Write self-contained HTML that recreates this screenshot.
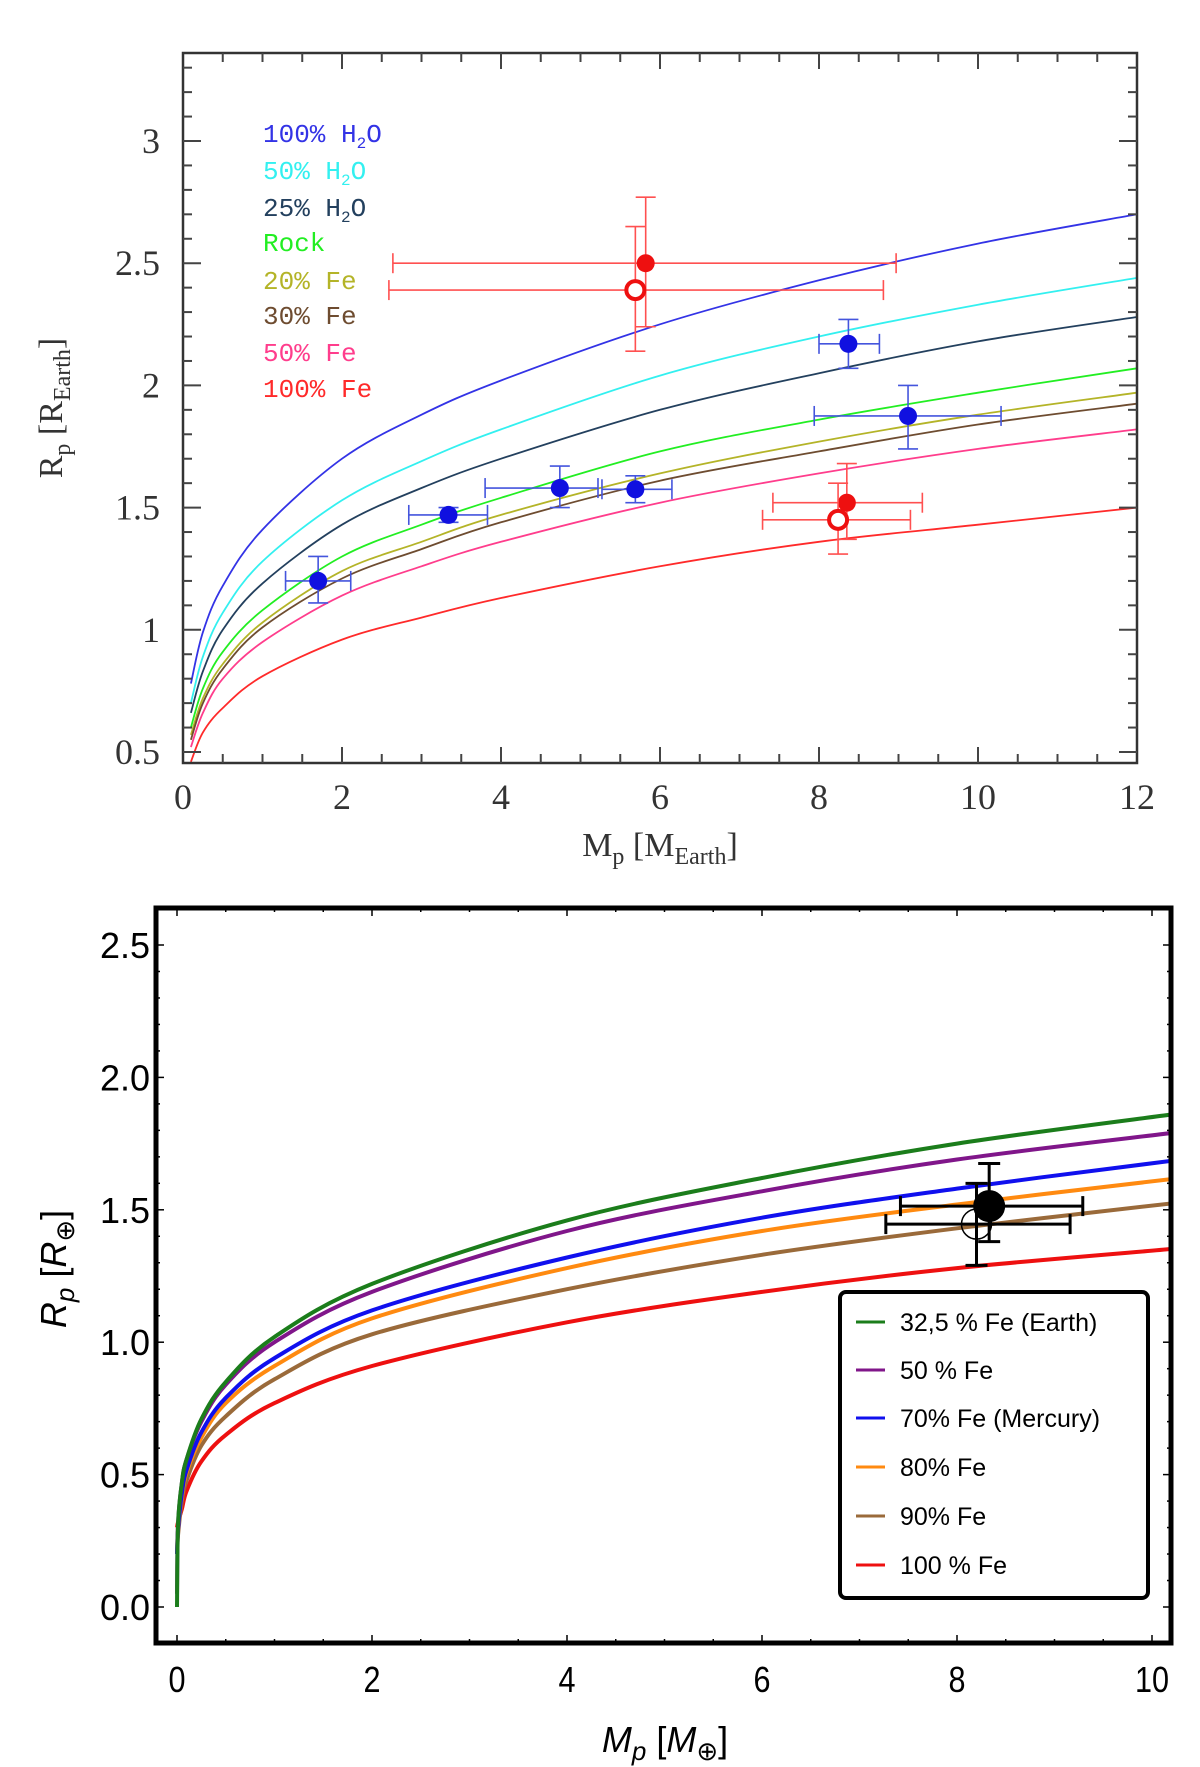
<!DOCTYPE html>
<html><head><meta charset="utf-8"><style>
body{margin:0;background:#fff;width:1200px;height:1767px;overflow:hidden}
svg{display:block}
</style></head><body>
<svg id="fig" width="1200" height="1767" xmlns="http://www.w3.org/2000/svg">
<g id="top"></g>
<g id="bot"></g>
</svg>
<script>
// ---------- TOP CHART DATA ----------
const topMass = [0.1,0.25,0.5,1,2,3,4,6,8,10,12];
const topNames = ["100% H2O","50% H2O","25% H2O","Rock","20% Fe","30% Fe","50% Fe","100% Fe"];
const topColors = ["#3333e6","#33f0f0","#23405e","#22ee22","#b4b428","#6e4c30","#ff3d8c","#ff2a2a"];
const topH2O100 = [0.78,0.99,1.18,1.41,1.70,1.88,2.02,2.25,2.43,2.58,2.70];
const topH2O50 = [0.70,0.89,1.07,1.28,1.53,1.69,1.82,2.04,2.20,2.33,2.44];
const topH2O25 = [0.66,0.83,1.00,1.19,1.43,1.58,1.70,1.90,2.05,2.18,2.28];
const topRock = [0.60,0.76,0.91,1.08,1.30,1.43,1.54,1.73,1.86,1.97,2.07];
const topFe20 = [0.57,0.72,0.86,1.03,1.24,1.36,1.47,1.64,1.77,1.88,1.97];
const topFe30 = [0.55,0.70,0.84,1.01,1.21,1.33,1.44,1.61,1.73,1.84,1.925];
const topFe50 = [0.52,0.66,0.80,0.95,1.14,1.26,1.36,1.52,1.64,1.74,1.82];
const topFe100 = [0.46,0.58,0.68,0.81,0.96,1.05,1.13,1.26,1.36,1.43,1.50];
const bpM = [1.70,3.34,4.74,5.69,8.37,9.12];
const bpR = [1.20,1.47,1.58,1.575,2.17,1.875];
const bpMlo = [1.29,2.84,3.80,5.27,8.00,7.94];
const bpMhi = [2.11,3.83,5.22,6.15,8.76,10.29];
const bpRlo = [1.11,1.44,1.50,1.52,2.07,1.74];
const bpRhi = [1.30,1.50,1.67,1.63,2.27,2.00];
const rpM = [5.82,5.69,8.35,8.24];
const rpR = [2.50,2.39,1.52,1.45];
const rpMlo = [2.64,2.59,7.42,7.29];
const rpMhi = [8.97,8.81,9.30,9.15];
const rpRlo = [2.24,2.14,1.37,1.31];
const rpRhi = [2.77,2.65,1.68,1.60];
const rpOpen = [false,true,false,true];
const topXTicks = [0,2,4,6,8,10,12];
const topYTicks = [0.5,1,1.5,2,2.5,3];

// ---------- BOTTOM CHART DATA ----------
const botMass = [0,0.01,0.05,0.1,0.25,0.5,1,2,4,6,8,10.2];
const botNames = ["32,5 % Fe (Earth)","50 % Fe","70% Fe (Mercury)","80% Fe","90% Fe","100 % Fe"];
const botColors = ["#1b7d1b","#80168a","#1010ee","#ff8a10","#9a6a3a","#ee1010"];
const botFe32 = [0,0.31,0.47,0.56,0.71,0.85,1.02,1.22,1.46,1.62,1.75,1.86];
const botFe50 = [0.05,0.31,0.47,0.56,0.70,0.84,1.00,1.19,1.42,1.57,1.69,1.79];
const botFe70 = [0.2,0.29,0.43,0.52,0.66,0.79,0.94,1.12,1.32,1.47,1.58,1.685];
const botFe80 = [0.2,0.29,0.42,0.51,0.64,0.77,0.91,1.09,1.28,1.42,1.52,1.616];
const botFe90 = [0.2,0.27,0.40,0.48,0.61,0.72,0.86,1.03,1.20,1.33,1.43,1.524];
const botFe100 = [0.3,0.32,0.37,0.44,0.55,0.65,0.77,0.91,1.075,1.19,1.28,1.352];
const kM = [8.33,8.20];
const kR = [1.514,1.446];
const kMlo = [7.42,7.27];
const kMhi = [9.29,9.16];
const kRlo = [1.38,1.29];
const kRhi = [1.675,1.60];
const kOpen = [false,true];
const botXTicks = [0,2,4,6,8,10];
const botYTicks = [0,0.5,1,1.5,2,2.5];

const NS="http://www.w3.org/2000/svg";
function mk(parent,tag,attrs,text){const e=document.createElementNS(NS,tag);for(const k in attrs)e.setAttribute(k,attrs[k]);if(text!==undefined)e.textContent=text;parent.appendChild(e);return e;}
function smooth(pts){
  let d='M'+pts[0][0].toFixed(1)+','+pts[0][1].toFixed(1);
  for(let i=0;i<pts.length-1;i++){
    const p0=pts[i-1]||pts[i],p1=pts[i],p2=pts[i+1],p3=pts[i+2]||p2;
    const c1=[p1[0]+(p2[0]-p0[0])/6,p1[1]+(p2[1]-p0[1])/6];
    const c2=[p2[0]-(p3[0]-p1[0])/6,p2[1]-(p3[1]-p1[1])/6];
    d+=' C'+c1[0].toFixed(1)+','+c1[1].toFixed(1)+' '+c2[0].toFixed(1)+','+c2[1].toFixed(1)+' '+p2[0].toFixed(1)+','+p2[1].toFixed(1);
  }
  return d;
}

// ===== TOP =====
(function(){
const g=document.getElementById('top');
const L=183,R=1137,T=53,B=763;
const X=m=>L+(m-0)*(R-L)/12;
const Y=r=>141+(3-r)*244.4;
const serif='"Liberation Serif", serif';
const series=[topH2O100,topH2O50,topH2O25,topRock,topFe20,topFe30,topFe50,topFe100];
series.forEach((s,i)=>{
  const d=smooth(s.map((v,j)=>[X(topMass[j]),Y(v)]));
  const p=mk(g,'path',{d:d,fill:'none',stroke:topColors[i],'stroke-width':1.8});
  
  
});
bpM.forEach((m,i)=>{
  const c='#4455dd';
  const e=mk(g,'g',{stroke:c,'stroke-width':1.6});
  
  
  mk(e,'line',{x1:X(bpMlo[i]),x2:X(bpMhi[i]),y1:Y(bpR[i]),y2:Y(bpR[i])});
  mk(e,'line',{x1:X(bpMlo[i]),x2:X(bpMlo[i]),y1:Y(bpR[i])-10,y2:Y(bpR[i])+10});
  mk(e,'line',{x1:X(bpMhi[i]),x2:X(bpMhi[i]),y1:Y(bpR[i])-10,y2:Y(bpR[i])+10});
  mk(e,'line',{x1:X(m),x2:X(m),y1:Y(bpRlo[i]),y2:Y(bpRhi[i])});
  mk(e,'line',{x1:X(m)-10,x2:X(m)+10,y1:Y(bpRlo[i]),y2:Y(bpRlo[i])});
  mk(e,'line',{x1:X(m)-10,x2:X(m)+10,y1:Y(bpRhi[i]),y2:Y(bpRhi[i])});
  mk(e,'circle',{cx:X(m),cy:Y(bpR[i]),r:9,fill:'#1010e0',stroke:'none'});
});
rpM.forEach((m,i)=>{
  const c='#ff5050';
  const e=mk(g,'g',{stroke:c,'stroke-width':1.6});
  
  
  mk(e,'line',{x1:X(rpMlo[i]),x2:X(rpMhi[i]),y1:Y(rpR[i]),y2:Y(rpR[i])});
  mk(e,'line',{x1:X(rpMlo[i]),x2:X(rpMlo[i]),y1:Y(rpR[i])-10,y2:Y(rpR[i])+10});
  mk(e,'line',{x1:X(rpMhi[i]),x2:X(rpMhi[i]),y1:Y(rpR[i])-10,y2:Y(rpR[i])+10});
  mk(e,'line',{x1:X(m),x2:X(m),y1:Y(rpRlo[i]),y2:Y(rpRhi[i])});
  mk(e,'line',{x1:X(m)-10,x2:X(m)+10,y1:Y(rpRlo[i]),y2:Y(rpRlo[i])});
  mk(e,'line',{x1:X(m)-10,x2:X(m)+10,y1:Y(rpRhi[i]),y2:Y(rpRhi[i])});
  if(rpOpen[i]) mk(e,'circle',{cx:X(m),cy:Y(rpR[i]),r:9,fill:'#fff',stroke:'#ee1010','stroke-width':4});
  else mk(e,'circle',{cx:X(m),cy:Y(rpR[i]),r:9,fill:'#ee1010',stroke:'none'});
});
const fr=mk(g,'rect',{x:L,y:T,width:R-L,height:B-T,fill:'none',stroke:'#333','stroke-width':2.5});

const tk=mk(g,'g',{stroke:'#444','stroke-width':2});
for(let m=0.5;m<12;m+=0.5){const big=(m%2===0);const l=big?16:9;
  mk(tk,'line',{x1:X(m),x2:X(m),y1:B,y2:B-l});mk(tk,'line',{x1:X(m),x2:X(m),y1:T,y2:T+l});}
for(let r=0.5;r<=3.35;r+=0.1){const rr=Math.round(r*10)/10;const big=Math.abs(rr*2-Math.round(rr*2))<1e-6;const l=big?18:9;
  mk(tk,'line',{x1:L,x2:L+l,y1:Y(rr),y2:Y(rr)});mk(tk,'line',{x1:R,x2:R-l,y1:Y(rr),y2:Y(rr)});}
topXTicks.forEach(v=>{const t=mk(g,'text',{x:X(v),y:809,'font-family':serif,'font-size':36,'text-anchor':'middle',fill:'#333'},String(v));
  });
topYTicks.forEach(v=>{const t=mk(g,'text',{x:160,y:Y(v)+12,'font-family':serif,'font-size':36,'text-anchor':'end',fill:'#333'},String(v));
  });
const xt=mk(g,'text',{x:660,y:856,'font-family':serif,'font-size':34,'text-anchor':'middle',fill:'#333'});

xt.innerHTML='M<tspan font-size="24" dy="8">p</tspan><tspan dy="-8"> [M</tspan><tspan font-size="24" dy="8">Earth</tspan><tspan dy="-8">]</tspan>';
const yt=mk(g,'text',{x:0,y:0,'font-family':serif,'font-size':34,'text-anchor':'middle',fill:'#333',transform:'translate(62,408) rotate(-90)'});

yt.innerHTML='R<tspan font-size="24" dy="8">p</tspan><tspan dy="-8"> [R</tspan><tspan font-size="24" dy="8">Earth</tspan><tspan dy="-8">]</tspan>';
const legY=[133,170,207,242,280,315,352,388];
topNames.forEach((n,i)=>{
  const t=mk(g,'text',{x:263,y:legY[i]+9,'font-family':'"Liberation Mono", monospace','font-size':26,fill:topColors[i]});
  
  if(n.indexOf('H2O')>=0){t.innerHTML=n.replace('H2O','H<tspan font-size="16" dy="6">2</tspan><tspan dy="-6">O</tspan>');}
  else t.textContent=n;
});
})();

// ===== BOTTOM =====
(function(){
const g=document.getElementById('bot');
const L=156,R=1171,T=908,B=1643;
const X=m=>177+m*97.5;
const Y=r=>1607-r*264.8;
const sans='"Liberation Sans", sans-serif';
const defs=mk(g,'defs',{});const cp=mk(defs,'clipPath',{id:'bclip'});mk(cp,'rect',{x:L,y:T,width:R-L,height:B-T});
const series=[botFe32,botFe50,botFe70,botFe80,botFe90,botFe100];
for(let i=series.length-1;i>=0;i--){
  const s=series[i];
  const d=smooth(s.map((v,j)=>[X(botMass[j]),Y(v)]));
  const p=mk(g,'path',{d:d,fill:'none',stroke:botColors[i],'stroke-width':4,'clip-path':'url(#bclip)'});
  
  
}
kM.forEach((m,i)=>{
  const e=mk(g,'g',{stroke:'#000','stroke-width':3});
  
  
  mk(e,'line',{x1:X(kMlo[i]),x2:X(kMhi[i]),y1:Y(kR[i]),y2:Y(kR[i])});
  mk(e,'line',{x1:X(kMlo[i]),x2:X(kMlo[i]),y1:Y(kR[i])-10,y2:Y(kR[i])+10});
  mk(e,'line',{x1:X(kMhi[i]),x2:X(kMhi[i]),y1:Y(kR[i])-10,y2:Y(kR[i])+10});
  mk(e,'line',{x1:X(m),x2:X(m),y1:Y(kRlo[i]),y2:Y(kRhi[i])});
  mk(e,'line',{x1:X(m)-11,x2:X(m)+11,y1:Y(kRlo[i]),y2:Y(kRlo[i])});
  mk(e,'line',{x1:X(m)-11,x2:X(m)+11,y1:Y(kRhi[i]),y2:Y(kRhi[i])});
  if(kOpen[i]) mk(e,'circle',{cx:X(m),cy:Y(kR[i]),r:15,fill:'none','stroke-width':1.5});
  else mk(e,'circle',{cx:X(m),cy:Y(kR[i]),r:16,fill:'#000',stroke:'none'});
});
const fr=mk(g,'rect',{x:L,y:T,width:R-L,height:B-T,fill:'none',stroke:'#000','stroke-width':5});

const tk=mk(g,'g',{stroke:'#000','stroke-width':1.5});
for(let m=0;m<=10;m+=0.5){const l=(m%2===0)?8:4;
  mk(tk,'line',{x1:X(m),x2:X(m),y1:B,y2:B-l});mk(tk,'line',{x1:X(m),x2:X(m),y1:T,y2:T+l});}
for(let r=0;r<=2.6;r+=0.1){const rr=Math.round(r*10)/10;const big=Math.abs(rr*2-Math.round(rr*2))<1e-6;const l=big?8:4;
  mk(tk,'line',{x1:L,x2:L+l,y1:Y(rr),y2:Y(rr)});mk(tk,'line',{x1:R,x2:R-l,y1:Y(rr),y2:Y(rr)});}
botXTicks.forEach(v=>{const t=mk(g,'text',{x:X(v),y:1692,'font-family':sans,'font-size':36,'text-anchor':'middle',fill:'#000',transform:'translate('+X(v)+',0) scale(0.85,1) translate('+(-X(v))+',0)'},String(v));
  });
botYTicks.forEach(v=>{const t=mk(g,'text',{x:150,y:Y(v)+13,'font-family':sans,'font-size':36,'text-anchor':'end',fill:'#000'},v.toFixed(1));
  });
const xt=mk(g,'text',{x:665,y:1752,'font-family':sans,'font-size':36,'text-anchor':'middle',fill:'#000'});

xt.innerHTML='<tspan font-style="italic">M</tspan><tspan font-style="italic" font-size="26" dy="8">p</tspan><tspan dy="-8"> [</tspan><tspan font-style="italic">M</tspan><tspan font-size="26" dy="8">⊕</tspan><tspan dy="-8">]</tspan>';
const yt=mk(g,'text',{x:0,y:0,'font-family':sans,'font-size':36,'text-anchor':'middle',fill:'#000',transform:'translate(66,1269) rotate(-90)'});

yt.innerHTML='<tspan font-style="italic">R</tspan><tspan font-style="italic" font-size="26" dy="8">p</tspan><tspan dy="-8"> [</tspan><tspan font-style="italic">R</tspan><tspan font-size="26" dy="8">⊕</tspan><tspan dy="-8">]</tspan>';
const lg=mk(g,'g',{});

mk(lg,'rect',{x:840,y:1292,width:308,height:306,rx:6,fill:'#fff',stroke:'#000','stroke-width':4});
const rows=[1322,1370,1418,1467,1516,1565];
botNames.forEach((n,i)=>{
  const e=mk(lg,'g',{});
  
  mk(e,'line',{x1:856,x2:885,y1:rows[i],y2:rows[i],stroke:botColors[i],'stroke-width':3});
  mk(e,'text',{x:900,y:rows[i]+9,'font-family':sans,'font-size':25,fill:'#000'},n);
});
})();
</script>
</body></html>
